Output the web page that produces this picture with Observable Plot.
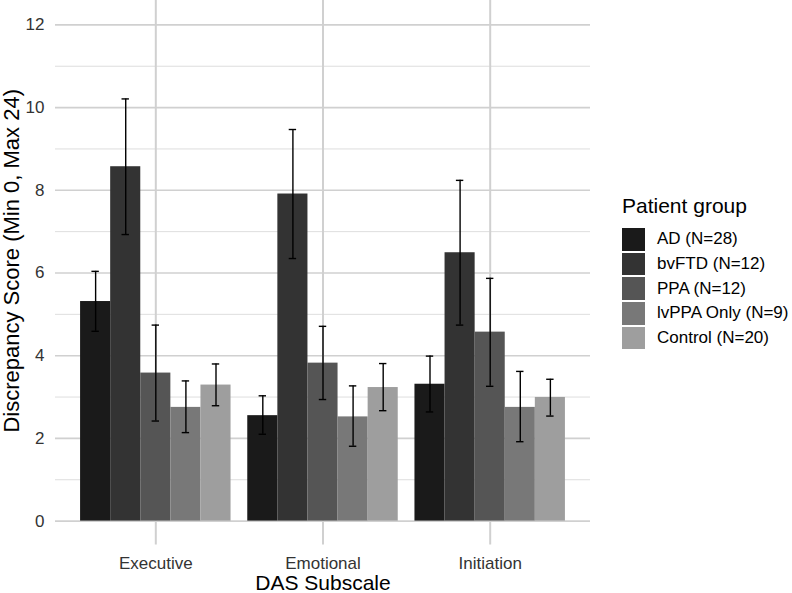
<!DOCTYPE html>
<html>
<head>
<meta charset="utf-8">
<script src="https://cdn.jsdelivr.net/npm/d3@7"></script>
<script src="https://cdn.jsdelivr.net/npm/@observablehq/plot@0.6"></script>
<style>
  body { margin: 0; background: #fff; font-family: "Liberation Sans", Arial, sans-serif; }
  #wrap { position: relative; width: 792px; height: 593px; overflow: hidden; }
  #legend { position: absolute; left: 622px; top: 195px; color: #000; }
  #legend .title { font-size: 21px; line-height: 21px; margin-bottom: 11px; white-space: nowrap; }
  #legend .row { display: flex; align-items: center; height: 24.7px; }
  #legend .sw { width: 23px; height: 22.5px; margin-right: 12px; }
  #legend .lab { font-size: 17px; white-space: nowrap; }
</style>
</head>
<body>
<div id="wrap"></div>
<script>
// ---- data ----
const subscales = ["Executive", "Emotional", "Initiation"];
const groups = ["AD (N=28)", "bvFTD (N=12)", "PPA (N=12)", "lvPPA Only (N=9)", "Control (N=20)"];
const colors = ["#1a1a1a", "#333333", "#555555", "#787878", "#9e9e9e"];

const meanExecutive  = [5.31, 8.57, 3.58, 2.75, 3.29];
const lowerExecutive = [4.59, 6.93, 2.42, 2.14, 2.79];
const upperExecutive = [6.04, 10.21, 4.74, 3.39, 3.80];

const meanEmotional  = [2.55, 7.91, 3.82, 2.52, 3.23];
const lowerEmotional = [2.10, 6.35, 2.94, 1.81, 2.67];
const upperEmotional = [3.03, 9.47, 4.71, 3.27, 3.81];

const meanInitiation  = [3.31, 6.49, 4.57, 2.75, 2.99];
const lowerInitiation = [2.64, 4.74, 3.26, 1.92, 2.54];
const upperInitiation = [3.99, 8.24, 5.87, 3.62, 3.43];

const yTicks = [0, 2, 4, 6, 8, 10, 12];
const yMinor = [1, 3, 5, 7, 9, 11];
const xTitle = "DAS Subscale";
const yTitle = "Discrepancy Score (Min 0, Max 24)";
const legendTitle = "Patient group";

// ---- build table (ggplot-style dodge, width 0.9) ----
const means = [meanExecutive, meanEmotional, meanInitiation];
const lowers = [lowerExecutive, lowerEmotional, lowerInitiation];
const uppers = [upperExecutive, upperEmotional, upperInitiation];
const dodge = 0.9;
const bw = dodge / groups.length;
const rows = [];
subscales.forEach((s, i) => {
  groups.forEach((g, k) => {
    const left = (i + 1) - dodge / 2 + k * bw;
    rows.push({
      subscale: s, group: g,
      mean: means[i][k], lo: lowers[i][k], hi: uppers[i][k],
      x1: left, x2: left + bw, xc: left + bw / 2
    });
  });
});
const catPos = subscales.map((s, i) => i + 1);

const chart = Plot.plot({
  width: 792,
  height: 593,
  marginLeft: 55,
  marginRight: 202,
  marginTop: 0,
  marginBottom: 72.4,
  x: { type: "linear", domain: [0.4, 3.6], axis: null },
  y: { domain: [0, 12.59], axis: null },
  color: { domain: groups, range: colors },
  style: { fontFamily: "Liberation Sans, Arial, sans-serif", fontSize: "17px", background: "white", color: "#333" },
  marks: [
    Plot.ruleY(yMinor, { stroke: "#dedede", strokeWidth: 1 }),
    Plot.ruleY(yTicks, { stroke: "#d0d0d0", strokeWidth: 1.6 }),
    Plot.ruleX(catPos, { stroke: "#d0d0d0", strokeWidth: 2, insetBottom: -24 }),
    Plot.rect(rows, { x1: "x1", x2: "x2", y1: 0, y2: "mean", fill: "group" }),
    Plot.ruleX(rows, { x: "xc", y1: "lo", y2: "hi", stroke: "#000", strokeWidth: 1.4 }),
    Plot.ruleY(rows, { y: "lo", x1: "xc", x2: "xc", insetLeft: -3.7, insetRight: -3.7, stroke: "#000", strokeWidth: 1.4 }),
    Plot.ruleY(rows, { y: "hi", x1: "xc", x2: "xc", insetLeft: -3.7, insetRight: -3.7, stroke: "#000", strokeWidth: 1.4 }),
    Plot.axisY({ ticks: yTicks, tickSize: 0, tickPadding: 11, label: null, fill: "#333", fontSize: 17 }),
    Plot.axisX({ ticks: catPos, tickFormat: d => subscales[d - 1], tickSize: 0, tickPadding: 36, label: null, fill: "#333", fontSize: 17 }),
    Plot.text([xTitle], { frameAnchor: "bottom", lineAnchor: "middle", dy: 62, fontSize: 21, fill: "#000" }),
    Plot.text([yTitle], { frameAnchor: "left", textAnchor: "middle", lineAnchor: "middle", rotate: -90, dx: -44, fontSize: 22, fill: "#000" })
  ]
});

const wrap = document.getElementById("wrap");
wrap.appendChild(chart);

// legend
const lg = document.createElement("div");
lg.id = "legend";
const t = document.createElement("div");
t.className = "title";
t.textContent = legendTitle;
lg.appendChild(t);
groups.forEach((g, k) => {
  const r = document.createElement("div");
  r.className = "row";
  const sw = document.createElement("div");
  sw.className = "sw";
  sw.style.background = colors[k];
  const lab = document.createElement("div");
  lab.className = "lab";
  lab.textContent = g;
  r.appendChild(sw);
  r.appendChild(lab);
  lg.appendChild(r);
});
wrap.appendChild(lg);
</script>
</body>
</html>
